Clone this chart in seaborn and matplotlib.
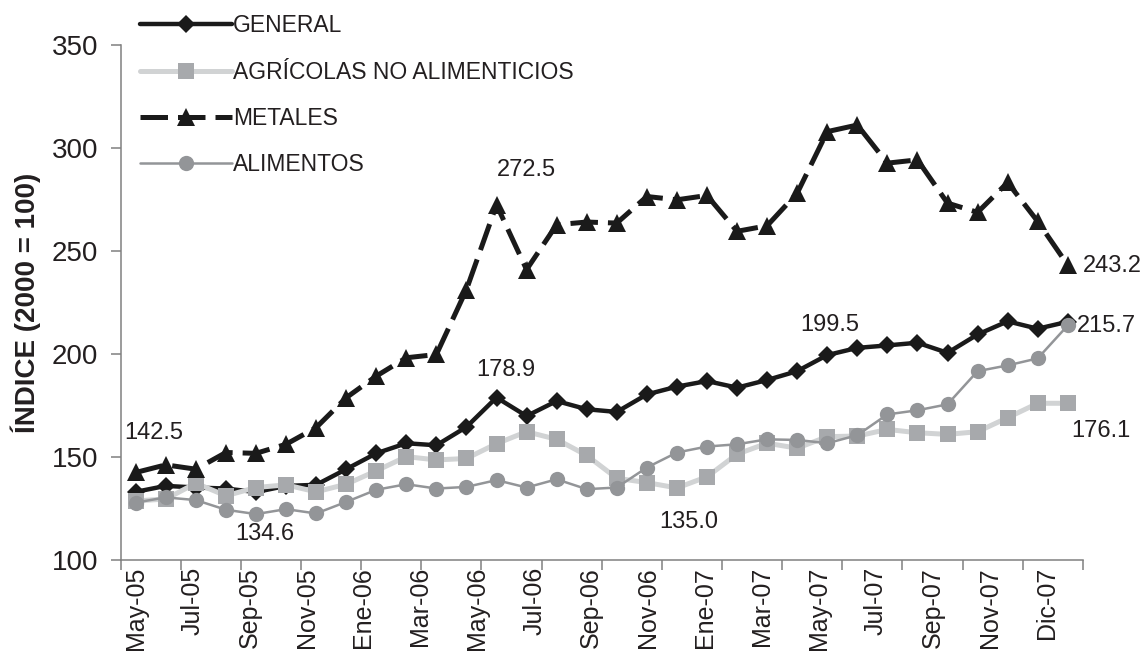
import matplotlib
matplotlib.use('Agg')
import matplotlib.pyplot as plt
import numpy as np
import seaborn as sns

# monthly index values, May-05 .. Dic-07 (32 points)
general = [133.1, 136.0, 135.2, 134.7, 133.0, 136.0, 136.5, 144.1, 151.8, 156.7,
           155.7, 164.6, 178.9, 169.9, 177.2, 173.2, 171.9, 180.4, 184.2, 186.9,
           183.7, 187.4, 191.7, 199.5, 203.0, 204.2, 205.5, 200.6, 209.5, 215.9,
           212.3, 215.7]
agricolas = [128.7, 129.6, 137.3, 131.2, 135.2, 136.5, 133.1, 136.8, 143.3, 150.2,
             148.6, 149.3, 156.5, 162.3, 158.6, 150.8, 139.7, 137.6, 135.0, 140.4,
             151.4, 156.7, 154.3, 159.9, 160.2, 163.4, 161.8, 161.0, 162.3, 169.1,
             176.1, 176.1]
metales = [142.5, 146.2, 144.1, 152.2, 151.8, 156.2, 164.3, 178.8, 189.3, 198.2,
           199.8, 231.3, 272.5, 241.0, 262.8, 264.1, 263.6, 276.5, 274.9, 277.0,
           259.6, 262.3, 278.1, 308.0, 311.2, 292.7, 294.3, 273.3, 268.8, 283.3,
           264.4, 243.2]
alimentos = [127.9, 130.4, 129.1, 124.4, 122.3, 124.7, 122.6, 128.2, 134.1, 136.8,
             134.7, 135.5, 138.8, 135.2, 139.2, 134.4, 135.2, 144.9, 152.2, 155.1,
             156.2, 158.6, 158.3, 156.7, 160.6, 170.7, 172.7, 175.6, 191.7, 194.5,
             197.9, 213.9]

tick_labels = ['May-05', 'Jul-05', 'Sep-05', 'Nov-05', 'Ene-06', 'Mar-06', 'May-06',
               'Jul-06', 'Sep-06', 'Nov-06', 'Ene-07', 'Mar-07', 'May-07', 'Jul-07',
               'Sep-07', 'Nov-07', 'Dic-07']

# value labels written on the chart: text, x (month index), y
notes_text = ['142.5', '134.6', '272.5', '178.9', '199.5', '135.0', '243.2', '215.7', '176.1']
notes_x = [0.6, 4.3, 13.0, 12.3, 23.1, 18.4, 32.5, 32.3, 32.1]
notes_y = [161.9, 112.6, 289.4, 192.5, 214.3, 118.3, 242.6, 213.5, 162.6]

sns.set_style('white')
plt.rcParams['font.family'] = ['Liberation Sans', 'DejaVu Sans']

idx = np.arange(len(general))
fig = plt.figure(figsize=(11.44, 6.54), dpi=100)
ax = fig.add_axes([0.1055, 0.1437, 0.841, 0.7873])

sns.lineplot(x=idx, y=general, ax=ax, color='#1a1a1a', lw=3.2, marker='D',
             markersize=9, markeredgewidth=0, markerfacecolor='#1a1a1a', label='GENERAL')
sns.lineplot(x=idx, y=agricolas, ax=ax, color='#d1d3d4', lw=3.6, marker='s',
             markersize=11, markeredgewidth=0, markerfacecolor='#a7a9ac',
             label='AGRÍCOLAS NO ALIMENTICIOS')
sns.lineplot(x=idx, y=metales, ax=ax, color='#1a1a1a', lw=3.6, marker='^',
             markersize=12.5, markeredgewidth=0, markerfacecolor='#1a1a1a',
             linestyle=(0, (5.5, 2)), label='METALES')
sns.lineplot(x=idx, y=alimentos, ax=ax, color='#939598', lw=1.8, marker='o',
             markersize=11, markeredgewidth=0, markerfacecolor='#939598', label='ALIMENTOS')

for t, x, y in zip(notes_text, notes_x, notes_y):
    ax.text(x, y, t, fontsize=17, color='#231f20', ha='center', va='center', clip_on=False)

ax.set_xlim(-0.5, 31.5)
ax.set_ylim(100, 350)
ax.set_yticks([100, 150, 200, 250, 300, 350])
ax.set_xticks(np.arange(-0.5, 32, 2))
ax.set_xticklabels([])
ax.set_xticks(np.linspace(0, 30.3, 17), minor=True)
ax.set_xticklabels(tick_labels, minor=True, rotation=90, fontsize=18, color='#231f20')
ax.tick_params(axis='x', which='minor', length=0, pad=5)
ax.tick_params(axis='x', which='major', length=7, width=1.1, color='#808080', direction='out')
ax.tick_params(axis='y', length=7, width=1.1, color='#808080', direction='out',
               labelsize=20, pad=9, labelcolor='#231f20')
ax.tick_params(bottom=True, left=True, which='major')
sns.despine(ax=ax)
for s in ['left', 'bottom']:
    ax.spines[s].set_color('#808080')
    ax.spines[s].set_linewidth(1.1)

ax.set_xlabel('')
ax.set_ylabel('ÍNDICE (2000 = 100)', fontsize=20, fontweight='bold', color='#231f20', labelpad=8)

ax.legend(loc='upper left', bbox_to_anchor=(0.1224, 0.978), bbox_transform=fig.transFigure,
          frameon=False, fontsize=16.5, handlelength=4.0, handletextpad=0.05,
          labelspacing=1.01, borderpad=0, borderaxespad=0, labelcolor='#231f20')

fig.savefig('out.png', dpi=100)
